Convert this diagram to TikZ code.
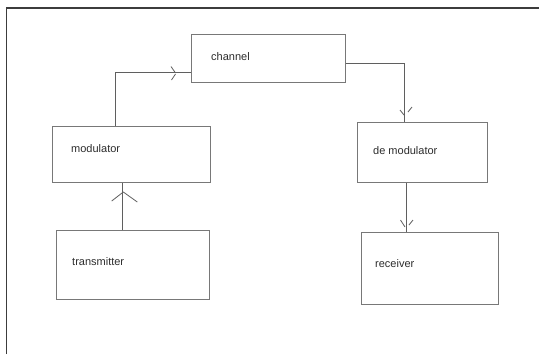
\documentclass[tikz,border=0pt]{standalone}
\usepackage{fontspec}
\setmainfont{Liberation Sans}
\definecolor{frameclr}{RGB}{60,60,60}
\definecolor{boxclr}{RGB}{120,120,120}
\definecolor{lineclr}{RGB}{95,95,95}
\definecolor{txtclr}{RGB}{45,45,45}
\begin{document}
\begin{tikzpicture}[x=1pt,y=-1pt,
  blockbox/.style={draw=boxclr,line width=1.1pt,rectangle,inner sep=0pt,anchor=north west},
  lbl/.style={anchor=west,inner sep=0pt,text=txtclr,font=\fontsize{11}{13}\selectfont},
  conn/.style={draw=lineclr,line width=1pt},
  tick/.style={draw=lineclr,line width=0.8pt}]
\useasboundingbox (0,0) rectangle (539,354);
\fill[white] (0,0) rectangle (539,354);
% outer frame: left and top edges only
\draw[frameclr,line width=1.3pt] (6.5,354) -- (6.5,8) -- (539,8);

% blocks
\node[blockbox,minimum width=154pt,minimum height=48.5pt] (chan) at (191,33.5) {};
\node[blockbox,minimum width=157.7pt,minimum height=56pt] (mod) at (52.3,125.5) {};
\node[blockbox,minimum width=153.3pt,minimum height=69pt] (tx) at (55.7,229.5) {};
\node[blockbox,minimum width=130pt,minimum height=60.3pt] (dem) at (357.3,121.7) {};
\node[blockbox,minimum width=137pt,minimum height=71.7pt] (rx) at (360.7,232.3) {};

% labels
\node[lbl] (tchan) at (211,57) {channel};
\node[lbl] (tmod) at (71,149) {modulator};
\node[lbl] (ttx) at (72,262) {transmitter};
\node[lbl] (tdem) at (373,151) {de modulator};
\node[lbl] (trx) at (375,264) {receiver};

% bend points of the connectors
\coordinate (mc) at (115.7,72.7);
\coordinate (cd) at (404.3,63.3);
\coordinate (tm) at (122.7,200);
\coordinate (dr) at (406.7,200);

% connectors
\draw[conn] (mod.north -| mc) -- (mc) -- (chan.west |- mc);
\draw[conn] (chan.east |- cd) -- (cd) -- (dem.north -| cd);
\draw[conn] (tx.north -| tm) -- (mod.south -| tm);
\draw[conn] (dem.south -| dr) -- (rx.north -| dr);

% hand-drawn open arrowheads
\draw[tick] (171,66.5) -- (175.5,73);
\draw[tick] (175.5,74) -- (171.5,80);
\draw[tick] (111.7,201) -- (123.3,192) -- (137.3,202);
\draw[tick] (400,110) -- (404,115);
\draw[tick] (408,112) -- (412,107);
\draw[tick] (400.5,220) -- (405,227);
\draw[tick] (409,225) -- (413,220);
\end{tikzpicture}
\end{document}
